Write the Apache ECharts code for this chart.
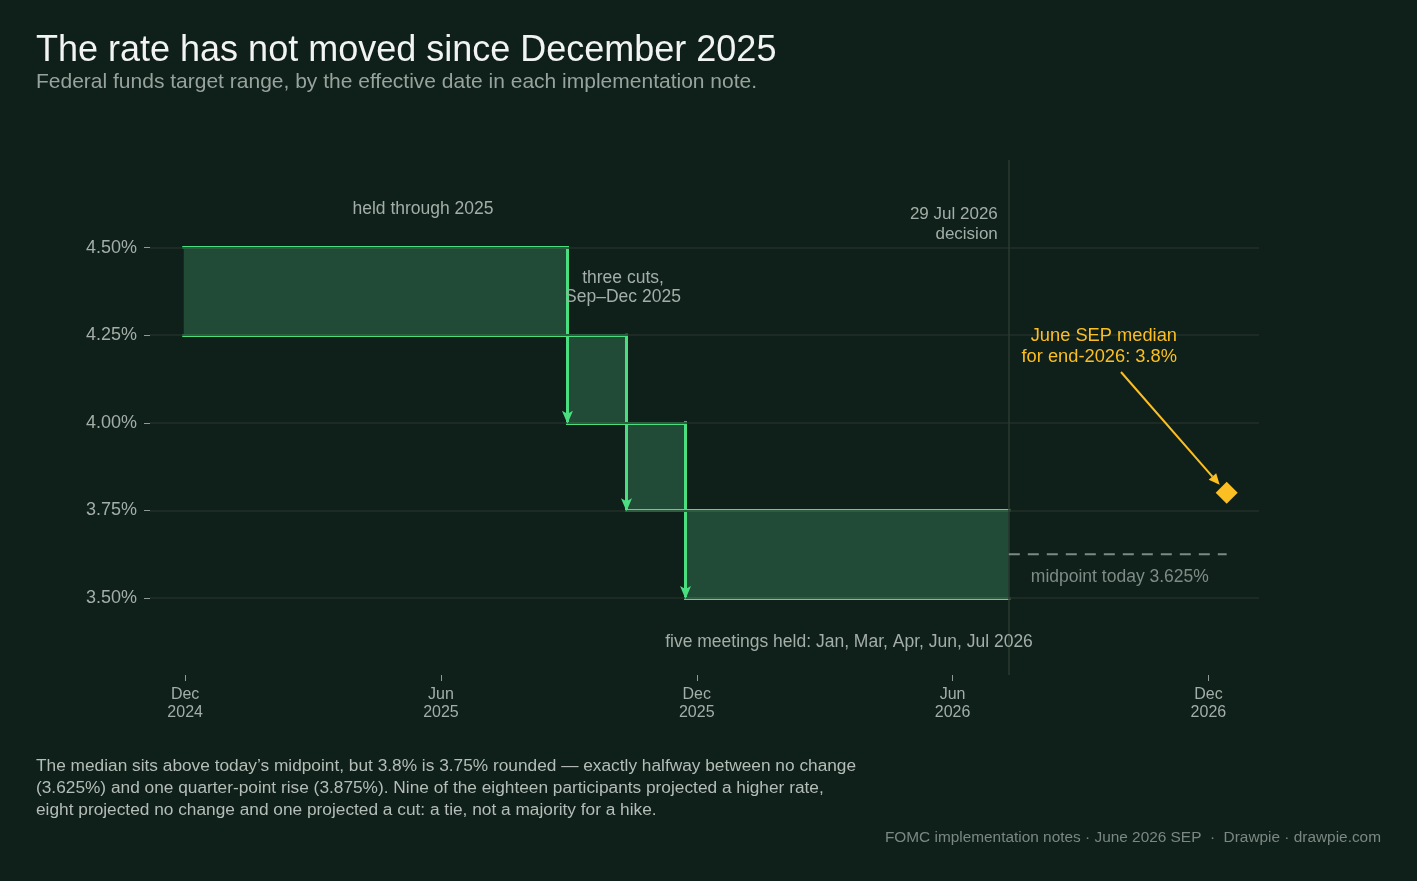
<!DOCTYPE html>
<html><head><meta charset="utf-8">
<script src="https://cdn.jsdelivr.net/npm/echarts@6/dist/echarts.min.js"></script>
<style>html,body{margin:0;padding:0;background:#0f1f19;}#chart{width:1417px;height:881px;}</style>
</head><body><div id="chart"></div>
<script>
// ---- data ----
const periodStart = ['2024-12-19', '2025-09-18', '2025-10-30', '2025-12-11'];
const periodEnd   = ['2025-09-18', '2025-10-30', '2025-12-11', '2026-07-29'];
const rangeLow  = [4.25, 4.00, 3.75, 3.50];
const rangeHigh = [4.50, 4.25, 4.00, 3.75];
const xTickDates  = ['2024-12-20', '2025-06-20', '2025-12-19', '2026-06-19', '2026-12-18'];
const xTickLabels = ['Dec\n2024', 'Jun\n2025', 'Dec\n2025', 'Jun\n2026', 'Dec\n2026'];
const yTickValues = [3.50, 3.75, 4.00, 4.25, 4.50];
const decisionDate = '2026-07-29';
const sepDate = '2026-12-31';
const sepMedian = 3.8;
const midpointToday = 3.625;
const xMin = '2024-11-25', xMax = '2027-01-23';
const yMin = 3.28, yMax = 4.75;

const FONT = "'Liberation Sans', Arial, sans-serif";
const GREEN = '#4ade80';
const AMBER = '#fbbf24';
const GRID = '#24312a';
const LABEL = '#a3aea8';

function ts(s) { const [y, m, d] = s.split('-').map(Number); return Date.UTC(y, m - 1, d); }
const xTicks = xTickDates.map(ts);

const stepData = periodStart.map((s, i) => [ts(s), ts(periodEnd[i]), rangeLow[i], rangeHigh[i], i > 0 ? rangeHigh[i - 1] : -1]);

// edges of each range (top and bottom) and the cut arrows, built from the arrays above
const edgeSegments = [];
periodStart.forEach((s, i) => {
  edgeSegments.push({ coords: [[ts(s), rangeHigh[i]], [ts(periodEnd[i]), rangeHigh[i]]] });
  edgeSegments.push({ coords: [[ts(s), rangeLow[i]], [ts(periodEnd[i]), rangeLow[i]]] });
  if (i > 0) edgeSegments.push({ coords: [[ts(s), rangeHigh[i - 1]], [ts(s), rangeLow[i]]] });
});

const chart = echarts.init(document.getElementById('chart'), null, { renderer: 'canvas' });

function renderFill(params, api) {
  const pTL = api.coord([api.value(0), api.value(3)]);
  const pBR = api.coord([api.value(1), api.value(2)]);
  return { type: 'rect', shape: { x: pTL[0], y: pTL[1], width: pBR[0] - pTL[0], height: pBR[1] - pTL[1] }, style: { fill: '#214a37' } };
}
function renderHeads(params, api) {
  if (!(api.value(4) > 0)) return null;
  const p = api.coord([api.value(0), api.value(2)]);
  return { type: 'polygon', shape: { points: [[p[0] - 5.5, p[1] - 12], [p[0], p[1] - 9], [p[0] + 5.5, p[1] - 12], [p[0], p[1] + 1]] }, style: { fill: GREEN } };
}

const option = {
  backgroundColor: '#0f1f19',
  animation: false,
  textStyle: { fontFamily: FONT },
  grid: { left: 150, right: 158, top: 160, bottom: 206 },
  xAxis: {
    type: 'value', min: ts(xMin), max: ts(xMax),
    axisLine: { show: false },
    axisTick: { show: true, length: 6, customValues: xTicks, lineStyle: { color: '#8e9a93', width: 1 } },
    axisLabel: {
      customValues: xTicks, color: LABEL, fontSize: 16, lineHeight: 18, margin: 11, fontFamily: FONT,
      formatter: function (v) { const i = xTicks.indexOf(v); return i >= 0 ? xTickLabels[i] : ''; }
    },
    splitLine: { show: false }
  },
  yAxis: {
    type: 'value', min: yMin, max: yMax,
    axisLine: { show: false },
    axisTick: { show: true, length: 6, customValues: yTickValues, lineStyle: { color: '#8e9a93', width: 1 } },
    axisLabel: { customValues: yTickValues, color: LABEL, fontSize: 18, margin: 13, fontFamily: FONT,
      formatter: v => v.toFixed(2) + '%' },
    splitLine: { show: false }
  },
  series: [
    {
      type: 'line', data: [], z: 1, silent: true,
      markLine: {
        silent: true, symbol: ['none', 'none'], label: { show: false },
        lineStyle: { color: GRID, width: 1.5, type: 'solid', opacity: 1 },
        data: yTickValues.map(v => ({ yAxis: v }))
      }
    },
    {
      type: 'line', data: [], z: 2, silent: true,
      markLine: {
        silent: true, symbol: ['none', 'none'], label: { show: false },
        lineStyle: { color: '#2b3b31', width: 1.5, type: 'solid', opacity: 1 },
        data: [{ xAxis: ts(decisionDate) }]
      }
    },
    {
      type: 'custom', z: 3, silent: true,
      encode: { x: [0, 1], y: [2, 3] },
      data: stepData,
      renderItem: renderFill
    },
    {
      type: 'lines', coordinateSystem: 'cartesian2d', z: 4, silent: true,
      data: edgeSegments,
      symbol: ['none', 'none'],
      lineStyle: { color: GREEN, width: 3, opacity: 1, cap: 'square', curveness: 0 }
    },
    {
      type: 'custom', z: 5, silent: true,
      encode: { x: 0, y: 2 },
      data: stepData,
      renderItem: renderHeads
    },
    {
      type: 'line', z: 5, silent: true, symbol: 'none',
      data: [[ts(decisionDate), midpointToday], [ts(sepDate), midpointToday]],
      lineStyle: { color: '#7d8983', width: 2, type: [11, 8], opacity: 1 }
    },
    {
      type: 'scatter', z: 6, silent: true, symbol: 'diamond', symbolSize: 22,
      data: [[ts(sepDate), sepMedian]],
      itemStyle: { color: AMBER, opacity: 1 }
    }
  ]
};
chart.setOption(option);

// ---- annotations ----
function txt(x, y, s, opt) {
  return {
    type: 'text', x: x, y: y + 2, silent: true, z: 10,
    style: Object.assign({ text: s, fill: LABEL, fontSize: 17.5, fontFamily: FONT, align: 'left', verticalAlign: 'middle' }, opt || {})
  };
}
const pd = chart.convertToPixel({ gridIndex: 0 }, [ts(sepDate), sepMedian]);
const pDec = chart.convertToPixel({ gridIndex: 0 }, [ts(decisionDate), midpointToday]);
const tip = [pd[0] - 7, pd[1] - 8];
const start = [1121, 372];
const ang = Math.atan2(tip[1] - start[1], tip[0] - start[0]);
const ah = 11, aw = 5;
const base = [tip[0] - ah * Math.cos(ang), tip[1] - ah * Math.sin(ang)];
const arrowHead = [
  tip,
  [base[0] + aw * Math.sin(ang), base[1] - aw * Math.cos(ang)],
  [base[0] - aw * Math.sin(ang), base[1] + aw * Math.cos(ang)]
];

chart.setOption({
  graphic: [
    txt(36, 49, 'The rate has not moved since December 2025', { fill: '#f1f4f2', fontSize: 36 }),
    txt(36, 80, 'Federal funds target range, by the effective date in each implementation note.', { fill: '#97a39c', fontSize: 21 }),
    txt(423, 207, 'held through 2025', { align: 'center' }),
    txt(623, 276, 'three cuts,', { align: 'center' }),
    txt(623, 295, 'Sep\u2013Dec 2025', { align: 'center' }),
    txt(pDec[0] - 11, 212, '29 Jul 2026', { align: 'right', fontSize: 17 }),
    txt(pDec[0] - 11, 232, 'decision', { align: 'right', fontSize: 17 }),
    txt(1177, 334, 'June SEP median', { align: 'right', fill: AMBER, fontSize: 18.3 }),
    txt(1177, 355, 'for end-2026: 3.8%', { align: 'right', fill: AMBER, fontSize: 18.3 }),
    txt(pDec[0] + 22, 575, 'midpoint today 3.625%', { fill: '#7f8b85' }),
    txt(849, 640, 'five meetings held: Jan, Mar, Apr, Jun, Jul 2026', { align: 'center' }),
    { type: 'line', silent: true, z: 10, shape: { x1: start[0], y1: start[1], x2: base[0], y2: base[1] }, style: { stroke: AMBER, lineWidth: 2 } },
    { type: 'polygon', silent: true, z: 10, shape: { points: arrowHead }, style: { fill: AMBER } },
    txt(36, 764, 'The median sits above today\u2019s midpoint, but 3.8% is 3.75% rounded \u2014 exactly halfway between no change', { fill: '#b4bdb8', fontSize: 17.3 }),
    txt(36, 786, '(3.625%) and one quarter-point rise (3.875%). Nine of the eighteen participants projected a higher rate,', { fill: '#b4bdb8', fontSize: 17.3 }),
    txt(36, 808, 'eight projected no change and one projected a cut: a tie, not a majority for a hike.', { fill: '#b4bdb8', fontSize: 17.3 }),
    txt(1381, 836, 'FOMC implementation notes \u00b7 June 2026 SEP  \u00b7  Drawpie \u00b7 drawpie.com', { align: 'right', fill: '#7b8882', fontSize: 15.4 })
  ]
});
</script>
</body></html>
